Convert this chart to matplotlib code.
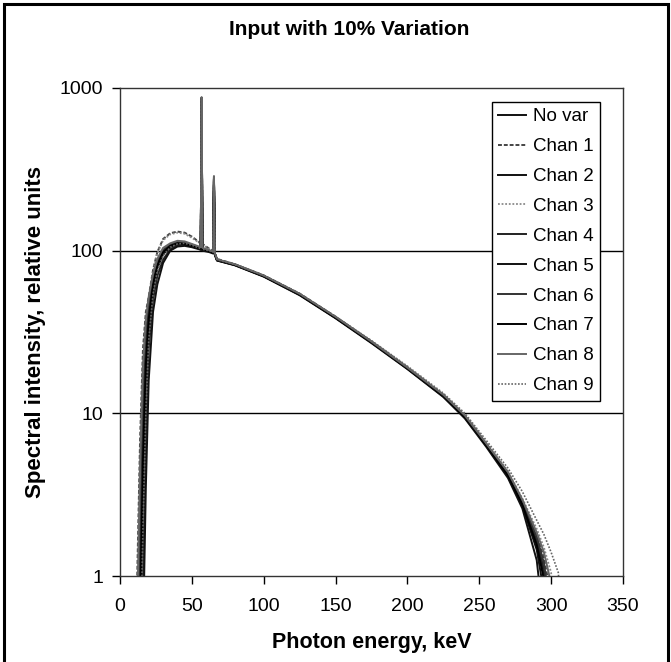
import numpy as np
import matplotlib
matplotlib.use("Agg")
import matplotlib.pyplot as plt
from matplotlib.patches import Rectangle

plt.rcParams["font.family"] = ["Liberation Sans", "DejaVu Sans"]

# ── Data ─────────────────────────────────────────────────────────────────────

ENERGY = [10, 12, 14, 16, 18, 20, 23, 26, 30, 35, 40, 45, 50, 55, 56.2, 56.8,
          57.4, 62, 64.8, 65.4, 66.0, 67.5, 80, 100, 125, 150, 175, 200, 225,
          240, 255, 270, 280, 290, 295, 300, 305, 310]

no_var = [0.05, 0.2, 1.0, 7, 25, 42, 66, 84, 99, 108, 111, 110, 107, 104, 103,
          870, 102, 100, 98, 285, 96, 88, 82, 70, 54, 39, 27.5, 19, 12.9, 9.6,
          6.4, 4.2, 2.8, 1.6, 1.05, 0.4, 0.1, 0.05]
chan1 = [0.2, 1.0, 7, 25, 42, 52, 76, 98, 118, 128, 131, 129, 122, 113, 111,
         860, 110, 103, 100, 280, 97, 89, 82.5, 70.5, 54.5, 39.3, 27.7, 19.2,
         13.0, 9.7, 6.5, 4.3, 2.9, 1.8, 1.3, 0.75, 0.15, 0.05]
chan2 = [0.02, 0.1, 0.4, 3.5, 16, 33, 58, 78, 95, 105, 110, 110, 107, 103,
         102, 850, 101, 99, 97, 275, 95, 87, 81.5, 69.5, 53.5, 38.6, 27.2, 18.8,
         12.7, 9.4, 6.3, 4.1, 2.7, 1.45, 0.8, 0.2, 0.05, 0.05]
chan3 = [0.1, 0.4, 3.5, 16, 33, 48, 74, 96, 116, 126, 129, 127, 120, 112, 110,
         880, 109, 102, 99, 290, 96, 88, 82.5, 70.3, 54.2, 39.2, 27.8, 19.3,
         13.1, 9.8, 6.6, 4.4, 3.0, 1.95, 1.5, 1.05, 0.3, 0.05]
chan4 = [0.02, 0.05, 0.2, 1.0, 7, 25, 50, 70, 88, 102, 108, 109, 106, 103,
         102, 865, 101, 99, 97, 280, 95, 87.5, 81.8, 69.8, 53.8, 38.8, 27.4,
         18.9, 12.8, 9.5, 6.4, 4.2, 2.8, 1.65, 1.1, 0.45, 0.1, 0.05]
chan5 = [0.02, 0.03, 0.1, 0.4, 3.5, 16, 42, 62, 84, 100, 106, 107, 105, 102,
         101, 845, 100, 98, 96, 270, 94, 87, 81.2, 69.2, 53.2, 38.4, 27.0, 18.7,
         12.6, 9.3, 6.2, 4.0, 2.6, 1.25, 0.5, 0.1, 0.05, 0.05]
chan6 = [0.08, 0.3, 2.0, 12, 30, 46, 69, 86, 101, 109, 113, 112, 109, 105,
         104, 870, 103, 100, 98, 285, 96, 88, 82, 70, 54, 39, 27.5, 19, 12.9,
         9.6, 6.4, 4.25, 2.85, 1.75, 1.2, 0.6, 0.12, 0.05]
chan7 = [0.03, 0.12, 0.6, 5, 20, 38, 62, 81, 98, 107, 111, 110, 107, 104, 103,
         855, 102, 99.5, 97.5, 278, 95.5, 87.5, 81.7, 69.7, 53.7, 38.7, 27.3,
         18.9, 12.8, 9.5, 6.35, 4.15, 2.75, 1.55, 0.95, 0.3, 0.07, 0.05]
chan8 = [0.12, 0.6, 5, 20, 38, 52, 72, 89, 104, 111, 115, 114, 110, 106, 105,
         875, 104, 101, 98.5, 287, 96.5, 88.5, 82.5, 70.4, 54.3, 39.2, 27.6,
         19.1, 13.0, 9.7, 6.5, 4.35, 2.95, 1.85, 1.4, 0.9, 0.2, 0.05]
chan9 = [0.02, 0.07, 0.25, 2.0, 10, 28, 54, 75, 93, 105, 110, 111, 108, 104,
         103, 860, 102, 100, 98, 282, 96, 88, 82, 70.2, 54.4, 39.4, 28.0, 19.5,
         13.3, 10.0, 6.8, 4.6, 3.3, 2.2, 1.8, 1.4, 1.05, 0.3]

LABELS = ["No var", "Chan 1", "Chan 2", "Chan 3", "Chan 4",
          "Chan 5", "Chan 6", "Chan 7", "Chan 8", "Chan 9"]
SERIES = [no_var, chan1, chan2, chan3, chan4, chan5, chan6, chan7, chan8, chan9]

# line look per series (greyscale print)
STYLES = [
    ("#111111", "-", 1.4),
    ("#444444", (0, (2, 1)), 1.4),
    ("#111111", "-", 1.4),
    ("#8a8a8a", (0, (1, 1)), 1.3),
    ("#222222", "-", 1.4),
    ("#111111", "-", 1.4),
    ("#333333", "-", 1.4),
    ("#000000", "-", 1.4),
    ("#666666", "-", 1.4),
    ("#666666", (0, (1, 1)), 1.2),
]

# ── Figure ───────────────────────────────────────────────────────────────────

fig = plt.figure(figsize=(6.71, 6.62), dpi=100)
ax = fig.add_axes([0.1788, 0.1299, 0.7496, 0.7372])

for y, lab, (col, ls, lw) in zip(SERIES, LABELS, STYLES):
    ax.plot(ENERGY, y, color=col, linestyle=ls, linewidth=lw, label=lab)

ax.set_yscale("log")
ax.set_xlim(0, 350)
ax.set_ylim(1, 1000)
ax.set_xticks(range(0, 351, 50))
ax.set_yticks([1, 10, 100, 1000])
ax.set_yticklabels(["1", "10", "100", "1000"])
ax.yaxis.set_minor_locator(matplotlib.ticker.NullLocator())
ax.tick_params(axis="both", labelsize=14, direction="out", length=6,
               width=1, color="black")
ax.tick_params(axis="x", pad=10)
ax.tick_params(axis="y", pad=6)

for yv in [10, 100]:
    ax.axhline(yv, color="black", linewidth=1.0, zorder=0)
for sp in ax.spines.values():
    sp.set_color("#333333")
    sp.set_linewidth(1.0)

ax.set_xlabel("Photon energy, keV", fontsize=15.5, fontweight="bold",
              labelpad=12)
ax.set_ylabel("Spectral intensity, relative units", fontsize=16,
              fontweight="bold", labelpad=10)

fig.text(0.52, 0.955, "Input with 10% Variation", ha="center", va="center",
         fontsize=15, fontweight="bold")

leg = ax.legend(loc="upper right", bbox_to_anchor=(0.955, 0.972),
                borderaxespad=0, fontsize=13.5, frameon=True, fancybox=False,
                edgecolor="black", framealpha=1, handlelength=1.45,
                handletextpad=0.4, labelspacing=0.68, borderpad=0.35)
leg.get_frame().set_linewidth(1.0)

# outer frame around the whole picture
fig.patches.append(Rectangle((0.006, -0.02), 0.989, 1.014,
                             transform=fig.transFigure, fill=False,
                             edgecolor="black", linewidth=2.2))

plt.savefig("out.png", dpi=100)
plt.close()
